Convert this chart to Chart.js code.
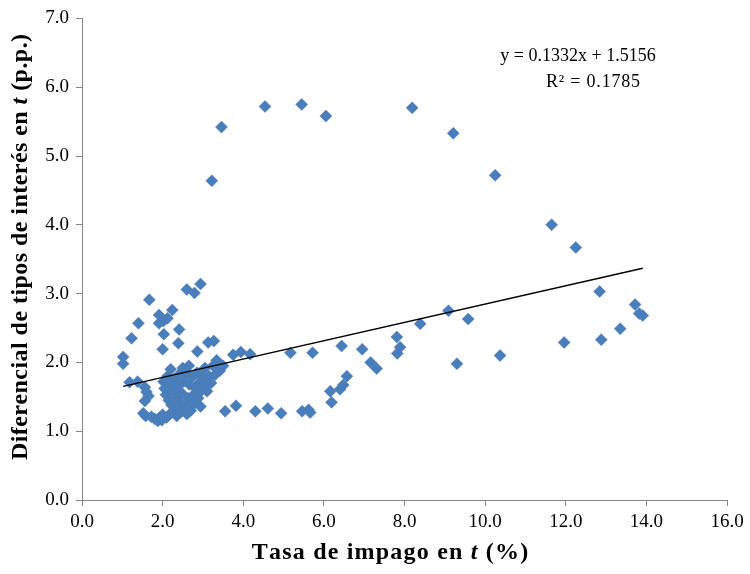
<!DOCTYPE html>
<html>
<head>
<meta charset="utf-8">
<script src="https://cdn.jsdelivr.net/npm/chart.js@4.4.1/dist/chart.umd.min.js"></script>
<style>
  html, body { margin: 0; padding: 0; background: #ffffff; }
  #wrap { width: 750px; height: 574px; }
</style>
</head>
<body>
<div id="wrap"><canvas id="chart" width="750" height="574"></canvas></div>
<script>
// Tasa de impago (%) and diferencial de tipos (p.p.), one entry per observation
const tasaImpago = [
  3.22, 3.46, 4.54, 5.45, 6.05, 8.19, 9.21, 10.25, 11.65, 12.25, 12.84, 13.72, 13.82, 13.91,
  13.35, 12.88, 11.96, 10.37, 9.30, 9.58, 9.09, 8.39, 7.81, 7.89, 7.82, 7.31, 7.16, 6.95,
  6.44, 5.72, 5.17, 4.17, 3.94, 3.75, 6.57, 6.48, 6.40, 6.16, 6.19, 5.62, 5.46, 5.66,
  4.94, 4.61, 4.30, 3.82, 3.55, 2.94,
  2.94, 2.60, 2.79, 1.67, 2.24, 1.91, 2.02, 2.12, 1.91, 1.40, 2.41, 2.03, 1.23, 2.39,
  2.00, 3.13, 3.27, 2.86, 1.02, 1.02, 3.34, 3.42, 3.09, 3.50,
  1.18, 1.38, 1.56, 1.60, 1.65, 1.56, 1.52, 1.58, 1.72, 1.80, 1.93, 1.88, 2.00, 2.10,
  2.20, 1.98,
  2.02, 2.05, 2.08, 2.12, 2.15, 2.18, 2.22, 2.25, 2.28, 2.30, 2.33, 2.36, 2.40, 2.42,
  2.45, 2.48, 2.52, 2.55, 2.58, 2.60, 2.63, 2.66, 2.70, 2.72, 2.75, 2.78, 2.82, 2.85,
  2.88, 2.90, 2.95, 2.98, 3.02, 3.05, 3.10, 3.15, 3.20, 3.25, 3.30, 3.38, 2.50, 2.65,
  2.20, 2.10, 2.35
];
const diferencial = [
  4.64, 5.42, 5.72, 5.75, 5.58, 5.70, 5.33, 4.72, 4.00, 3.67, 3.03, 2.84, 2.71, 2.68,
  2.49, 2.33, 2.29, 2.10, 1.98, 2.63, 2.75, 2.56, 2.37, 2.22, 2.13, 1.91, 2.00, 2.19,
  2.24, 2.14, 2.14, 2.12, 2.15, 2.11, 1.80, 1.67, 1.61, 1.58, 1.42, 1.31, 1.29, 1.27,
  1.26, 1.33, 1.29, 1.37, 1.29, 1.36,
  3.14, 3.06, 3.01, 2.91, 2.76, 2.69, 2.60, 2.64, 2.57, 2.57, 2.48, 2.41, 2.35, 2.28,
  2.19, 2.29, 2.31, 2.16, 2.08, 1.98, 2.03, 1.88, 1.74, 1.95,
  1.71, 1.72, 1.64, 1.57, 1.51, 1.44, 1.26, 1.22, 1.21, 1.18, 1.20, 1.15, 1.24, 1.20,
  1.26, 1.16,
  1.72, 1.62, 1.53, 1.80, 1.45, 1.68, 1.38, 1.58, 1.75, 1.32, 1.48, 1.65, 1.82, 1.42,
  1.28, 1.55, 1.72, 1.36, 1.85, 1.25, 1.48, 1.68, 1.30, 1.78, 1.52, 1.40, 1.62, 1.85,
  1.48, 1.70, 1.58, 1.82, 1.65, 1.92, 1.58, 1.80, 1.70, 1.95, 1.82, 1.90, 1.92, 1.95,
  1.90, 1.60, 1.22
];

// Linear trend fitted to the series
const pendiente = 0.1332;
const intercepto = 1.5156;
const r2 = 0.1785;

// Axis ranges and tick steps
const ejeX = { min: 0, max: 16, paso: 2 };
const ejeY = { min: 0, max: 7, paso: 1 };

const puntos = tasaImpago.map((x, i) => ({ x: x, y: diferencial[i] }));
const xMin = Math.min(...tasaImpago);
const xMax = Math.max(...tasaImpago);
const tendencia = [
  { x: xMin, y: pendiente * xMin + intercepto },
  { x: xMax, y: pendiente * xMax + intercepto }
];

const SERIF = '"Liberation Serif", "Times New Roman", serif';
const AXIS_GREY = '#868686';

// Draws a run of text pieces with mixed styles and extra letter spacing, centred on (cx, cy)
function drawRuns(ctx, runs, cx, cy, spacing) {
  const glyphs = [];
  let total = 0;
  runs.forEach(r => {
    ctx.font = r.font;
    for (const ch of r.text) {
      const w = ctx.measureText(ch).width;
      glyphs.push({ ch: ch, font: r.font, w: w });
      total += w + spacing;
    }
  });
  total -= spacing;
  let x = cx - total / 2;
  ctx.textBaseline = 'middle';
  ctx.textAlign = 'left';
  glyphs.forEach(g => { ctx.font = g.font; ctx.fillText(g.ch, x, cy); x += g.w + spacing; });
}

const titlesPlugin = {
  id: 'axisTitles',
  afterDraw(chart) {
    const ctx = chart.ctx;
    const area = chart.chartArea;
    ctx.save();
    ctx.fillStyle = '#000000';
    // x axis title
    const bx = 'bold 24px ' + SERIF;
    const bxi = 'italic bold 24px ' + SERIF;
    drawRuns(ctx, [
      { text: 'Tasa de impago en ', font: bx },
      { text: 't', font: bxi },
      { text: ' (%)', font: bx }
    ], 390, 553, 1.2);
    // y axis title
    const by = 'bold 24px ' + SERIF;
    const byi = 'italic bold 24px ' + SERIF;
    ctx.save();
    ctx.translate(21, 247);
    ctx.rotate(-Math.PI / 2);
    drawRuns(ctx, [
      { text: 'Diferencial de tipos de interés en ', font: by },
      { text: 't', font: byi },
      { text: ' (p.p.)', font: by }
    ], 0, 0, 0.45);
    ctx.restore();
    // trend equation
    ctx.font = '18px ' + SERIF;
    ctx.textAlign = 'center';
    ctx.textBaseline = 'middle';
    ctx.fillText('y = ' + pendiente.toFixed(4) + 'x + ' + intercepto.toFixed(4), 578, 56);
    drawRuns(ctx, [{ text: 'R² = ' + r2.toFixed(4), font: '18px ' + SERIF }], 593, 82, 0.8);
    ctx.restore();
  }
};

new Chart(document.getElementById('chart'), {
  type: 'scatter',
  data: {
    datasets: [
      {
        type: 'line',
        data: tendencia,
        borderColor: '#000000',
        borderWidth: 1.3,
        pointRadius: 0,
        fill: false,
        order: 0
      },
      {
        data: puntos,
        pointStyle: 'rectRot',
        pointRadius: 6,
        pointHoverRadius: 6,
        backgroundColor: '#4A7EBB',
        borderColor: '#4A7EBB',
        borderWidth: 0.5,
        order: 1
      }
    ]
  },
  options: {
    responsive: false,
    animation: false,
    devicePixelRatio: 1,
    layout: { padding: { top: 16, right: 23, bottom: 0, left: 0 } },
    plugins: { legend: { display: false }, tooltip: { enabled: false }, title: { display: false } },
    scales: {
      x: {
        type: 'linear',
        min: ejeX.min,
        max: ejeX.max,
        afterFit(scale) { scale.height = 74; },
        ticks: {
          stepSize: ejeX.paso,
          padding: 5,
          color: '#000000',
          font: { family: SERIF, size: 19 },
          callback: v => v.toFixed(1)
        },
        grid: { drawOnChartArea: false, drawTicks: true, tickLength: 6, color: AXIS_GREY },
        border: { color: AXIS_GREY, width: 1 }
      },
      y: {
        type: 'linear',
        min: ejeY.min,
        max: ejeY.max,
        afterFit(scale) { scale.width = 82; },
        ticks: {
          stepSize: ejeY.paso,
          padding: 7,
          color: '#000000',
          font: { family: SERIF, size: 19 },
          callback: v => v.toFixed(1)
        },
        grid: { drawOnChartArea: false, drawTicks: true, tickLength: 6, color: AXIS_GREY },
        border: { color: AXIS_GREY, width: 1 }
      }
    }
  },
  plugins: [titlesPlugin]
});
</script>
</body>
</html>
